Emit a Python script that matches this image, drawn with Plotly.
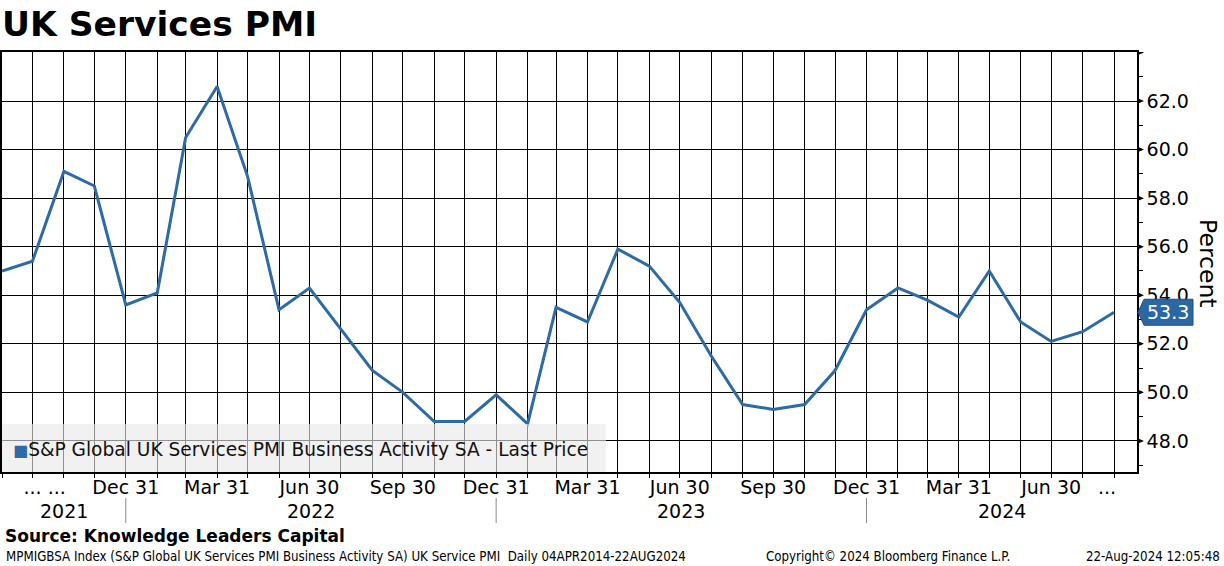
import pandas as pd
import plotly.graph_objects as go

# ---------------- data ----------------
months = pd.date_range("2021-08-31", "2024-08-31", freq="ME")  # month-end dates
pmi_values = [55.0, 55.4, 59.1, 58.5, 53.6, 54.1, 60.5, 62.6, 58.9, 53.4, 54.3, 52.6,
              50.9, 50.0, 48.8, 48.8, 49.9, 48.7, 53.5, 52.9, 55.9, 55.2, 53.7, 51.5,
              49.5, 49.3, 49.5, 50.9, 53.4, 54.3, 53.8, 53.1, 55.0, 52.9, 52.1, 52.5, 53.3]

x_label_dates = ["2021-10-12", "2021-12-31", "2022-03-31", "2022-06-30", "2022-09-30",
                 "2022-12-31", "2023-03-31", "2023-06-30", "2023-09-30", "2023-12-31",
                 "2024-03-31", "2024-06-30", "2024-08-24"]
x_label_text = ["... ...", "Dec 31", "Mar 31", "Jun 30", "Sep 30", "Dec 31", "Mar 31",
                "Jun 30", "Sep 30", "Dec 31", "Mar 31", "Jun 30", "..."]
year_labels = ["2021", "2022", "2023", "2024"]
year_bounds = ["2021-08-31", "2021-12-31", "2022-12-31", "2023-12-31", "2024-09-22 14:00"]

y_tick_vals = [48, 50, 52, 54, 56, 58, 60, 62]
y_arrow_vals = [48, 50, 52, 54, 56, 58, 60, 62, 64]
y_minor_vals = [47, 49, 51, 53, 55, 57, 59, 61, 63]

series_name = "S&P Global UK Services PMI Business Activity SA - Last Price"
LINE = "#2c6aa8"
FONT = "DejaVu Sans"

x_range = ["2021-08-31", "2024-09-22 14:00"]
y_range = [46.72, 64.02]

fig = go.Figure()
fig.add_trace(go.Scatter(x=months, y=pmi_values, mode="lines",
                         line=dict(color=LINE, width=3), showlegend=False,
                         name=series_name))

PLOT_W = 1137.0
PLOT_H = 420.0


def px_x(p):
    return p / PLOT_W


def px_y(p):
    return (472.0 - p) / PLOT_H


annotations = []
shapes = []

# year labels and separators
for i, yl in enumerate(year_labels):
    a = pd.Timestamp(year_bounds[i])
    b = pd.Timestamp(year_bounds[i + 1])
    mid = a + (b - a) / 2
    annotations.append(dict(x=mid, xref="x", y=px_y(511), yref="paper", text=yl,
                            showarrow=False, font=dict(family=FONT, size=19, color="black"),
                            xanchor="center", yanchor="middle"))
for sep in year_bounds[1:-1]:
    shapes.append(dict(type="line", xref="x", x0=sep, x1=sep, yref="paper",
                       y0=px_y(498), y1=px_y(523), line=dict(color="#8a8a8a", width=1)))

# arrows at right axis major ticks
for v in y_arrow_vals:
    shapes.append(dict(type="path", xref="paper", xsizemode="pixel", xanchor=1,
                       yref="y", ysizemode="pixel", yanchor=v,
                       path="M 0 -3 L 7 0 L 0 3 Z", fillcolor="black",
                       line=dict(width=0)))

# legend box
shapes.append(dict(type="rect", xref="paper", yref="paper", x0=0, x1=px_x(605),
                   y0=0, y1=px_y(424), fillcolor="rgba(232,232,232,0.62)",
                   line=dict(width=0), layer="above"))
annotations.append(dict(x=px_x(9), xref="paper", y=px_y(449), yref="paper",
                        text=f"<span style='color:{LINE};font-size:16px'>■</span>{series_name}",
                        showarrow=False, xanchor="left", yanchor="middle",
                        font=dict(family=FONT, size=18.6, color="#111111")))

# last value tag
last_val = pmi_values[-1]
shapes.append(dict(type="path", xref="paper", xsizemode="pixel", xanchor=1,
                   yref="y", ysizemode="pixel", yanchor=last_val,
                   path="M 1 0 L 7 13 L 56 13 L 56 -13 L 7 -13 Z",
                   fillcolor="#2a67a3", line=dict(color="#1e4f80", width=1)))
annotations.append(dict(x=1, xref="paper", xshift=8, y=last_val, yref="y",
                        text=f"{last_val:.1f}", showarrow=False, xanchor="left",
                        yanchor="middle",
                        font=dict(family=FONT, size=19, color="white")))

# axis title
annotations.append(dict(x=px_x(1208), xref="paper", y=px_y(263), yref="paper", text="Percent",
                        textangle=90, showarrow=False, xanchor="center", yanchor="middle",
                        font=dict(family=FONT, size=23.5, color="black")))

# footer
annotations.append(dict(x=px_x(1), xref="paper", y=px_y(536), yref="paper",
                        text="<b>Source: Knowledge Leaders Capital</b>", showarrow=False,
                        xanchor="left", yanchor="middle",
                        font=dict(family=FONT, size=17, color="black")))
SMALL = "DejaVu Sans Condensed, Liberation Sans Narrow, Liberation Sans"
annotations.append(dict(x=px_x(2), xref="paper", y=px_y(556), yref="paper",
                        text="MPMIGBSA Index (S&P Global UK Services PMI Business Activity SA) UK Service PMI&nbsp; Daily 04APR2014-22AUG2024",
                        showarrow=False, xanchor="left", yanchor="middle",
                        font=dict(family=SMALL, size=13.2, color="black")))
annotations.append(dict(x=px_x(888), xref="paper", y=px_y(556), yref="paper",
                        text="Copyright© 2024 Bloomberg Finance L.P.",
                        showarrow=False, xanchor="center", yanchor="middle",
                        font=dict(family=SMALL, size=13.2, color="black")))
annotations.append(dict(x=px_x(1222), xref="paper", y=px_y(556), yref="paper",
                        text="22-Aug-2024 12:05:48",
                        showarrow=False, xanchor="right", yanchor="middle",
                        font=dict(family=SMALL, size=13.2, color="black")))

fig.update_layout(
    width=1224, height=566,
    margin=dict(l=0, r=87, t=52, b=94),
    paper_bgcolor="white", plot_bgcolor="white",
    font=dict(family=FONT, color="black"),
    title=dict(text="<b>UK Services PMI</b>", x=0.0, xref="paper", xanchor="left",
               y=1 - 24 / 566, yref="container", yanchor="middle",
               font=dict(family=FONT, size=34.5, color="black")),
    showlegend=False,
    annotations=annotations,
    shapes=shapes,
    xaxis=dict(type="date", range=x_range, showgrid=False, zeroline=False,
               showline=True, linecolor="black", linewidth=1.5, mirror=True,
               tickmode="array", tickvals=x_label_dates, ticktext=x_label_text,
               ticks="", tickfont=dict(family=FONT, size=19, color="black"),
               ticklabelstandoff=-3,
               minor=dict(tickmode="array", tickvals=list(months), ticks="outside",
                          ticklen=4, tickcolor="black", tickwidth=1,
                          showgrid=True, gridcolor="black", gridwidth=1)),
    yaxis=dict(side="right", range=y_range, zeroline=False,
               showline=True, linecolor="black", linewidth=1.5, mirror=True,
               tickmode="array", tickvals=y_tick_vals,
               ticktext=[f"{v:.1f}" for v in y_tick_vals],
               ticks="", ticklabelstandoff=4,
               tickfont=dict(family=FONT, size=19, color="black"),
               showgrid=True, gridcolor="black", gridwidth=1,
               minor=dict(tickmode="array", tickvals=y_minor_vals, ticks="outside",
                          ticklen=4, tickcolor="black", tickwidth=1, showgrid=False)),
)

fig.write_html("out.html", config={"displayModeBar": False},
               post_script="document.body.style.margin='0px';document.body.style.overflow='hidden';")
